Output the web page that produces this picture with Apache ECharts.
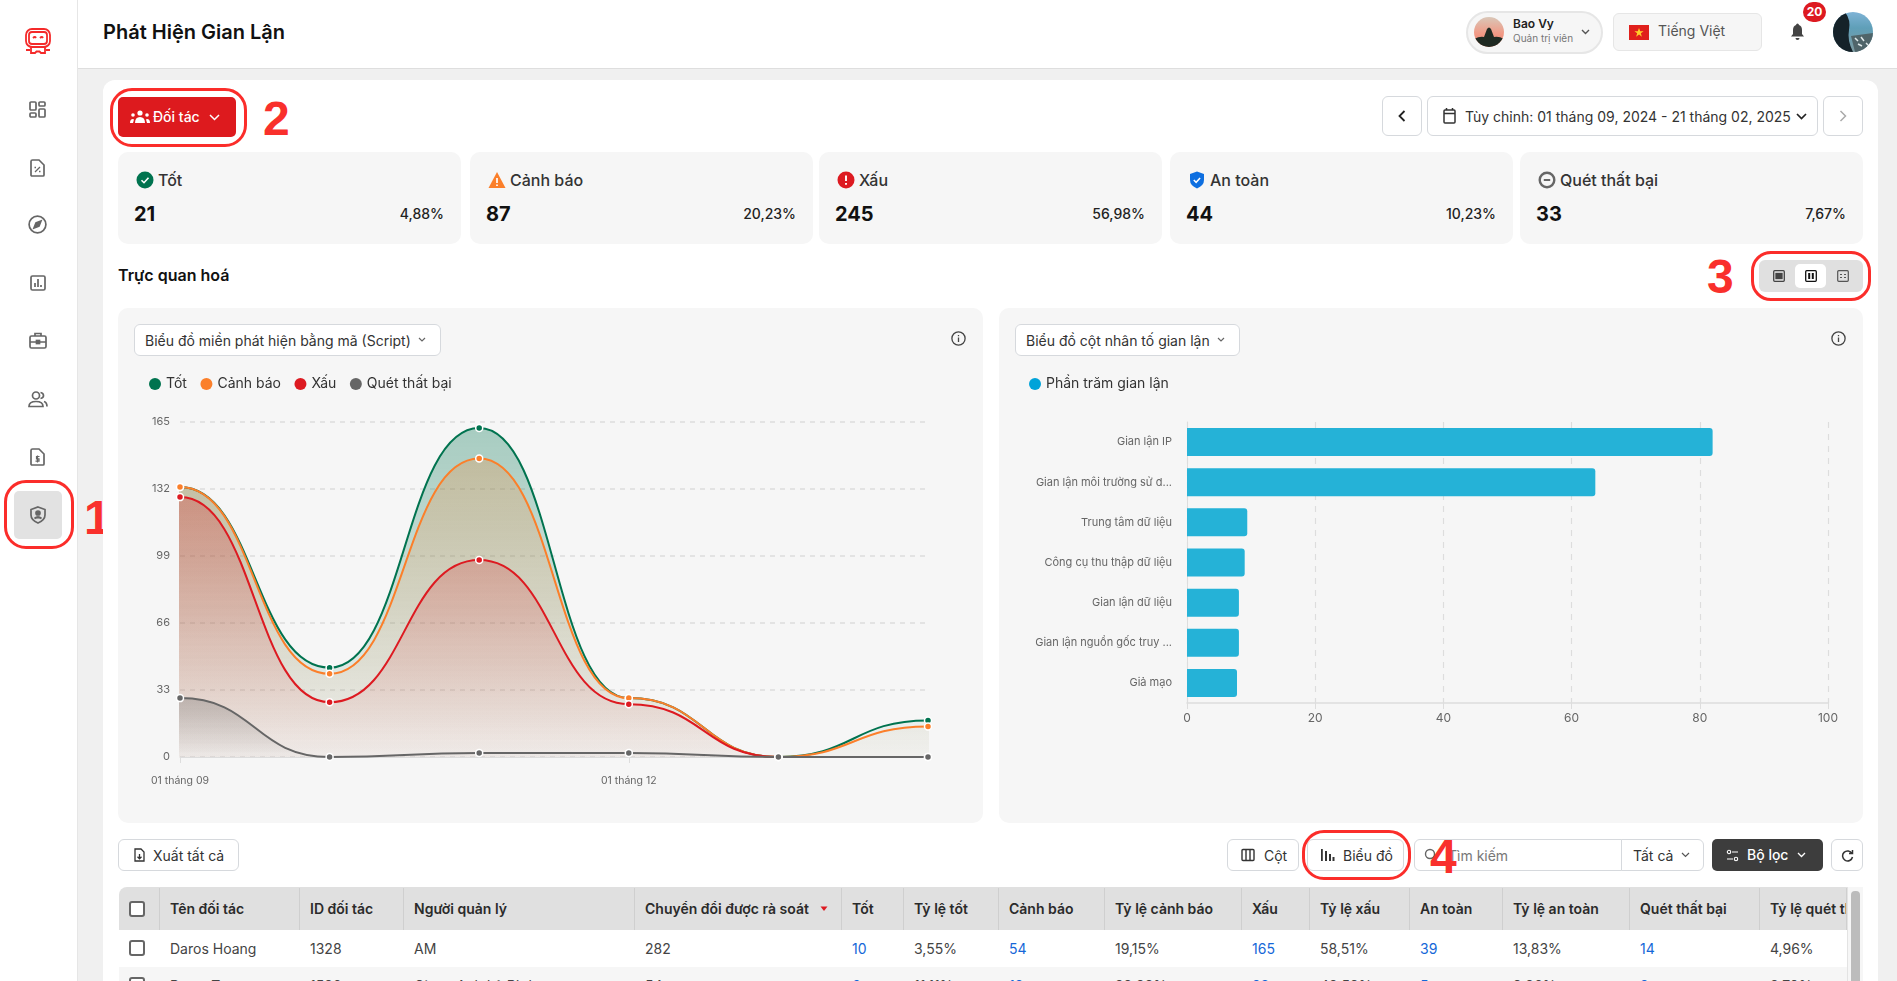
<!DOCTYPE html>
<html>
<head>
<meta charset="utf-8">
<title>Phát Hiện Gian Lận</title>
<script src="https://cdn.jsdelivr.net/npm/echarts@6/dist/echarts.min.js"></script>
<style>
html, body { margin: 0; padding: 0; width: 1897px; height: 981px; overflow: hidden; background: #f0f0f0; font-family: Inter, "Noto Sans", sans-serif; color: #222; }
.a { position: absolute; box-sizing: border-box; white-space: nowrap; }
.btn { background: #fff; border: 1px solid #d6d9dd; border-radius: 6px; display: flex; align-items: center; font-size: 14px; color: #333; }
.ring { border: 3px solid #fb2d2a; border-radius: 22px; }
.num { font-family: "Liberation Sans", Arial, sans-serif; font-weight: 700; font-size: 48px; color: #f9302c; line-height: 48px; }
.card { background: #f6f6f6; border-radius: 10px; top: 152px; height: 92px; width: 343px; }
.panel { background: #f6f6f6; border-radius: 10px; top: 308px; height: 515px; }
svg { display: block; }
.th { position: absolute; top: 1px; height: 42px; line-height: 42px; font-size: 14px; font-weight: 600; color: #2b2b2b; padding-left: 10px; border-right: 1px solid #cfcfcf; box-sizing: border-box; overflow: hidden; white-space: nowrap; }
.td { position: absolute; height: 37px; line-height: 37px; font-size: 14px; color: #444; padding-left: 10px; box-sizing: border-box; white-space: nowrap; overflow: hidden; }
.td.link { color: #1567d8; }
.chk { position: absolute; left: 10px; width: 16px; height: 16px; border: 2px solid #666; border-radius: 3px; background: #fff; box-sizing: border-box; }
</style>
</head>
<body>
<!-- sidebar -->
<div class="a" style="left:0;top:0;width:78px;height:981px;background:#fff;border-right:1px solid #e6e6e6"></div>
<div class="a" style="left:14px;top:491px;width:48px;height:48px;background:#e2e2e2;border-radius:5px"></div>
<div class="a ring" style="left:4px;top:480px;width:70px;height:69px"></div>
<div class="a num" style="left:84px;top:494px">1</div>
<svg class="a" style="left:24px;top:28px" width="28" height="28" viewBox="0 0 28 28" fill="none" stroke="#f42a2a" stroke-width="1.8"><rect x="2" y="1" width="24" height="18" rx="6"/><rect x="5" y="4" width="18" height="12" rx="3"/><path d="M9 10q2-2 3 0M16 10q2-2 3 0"/><path d="M7 19v6h4l1.5-1.5h3L17 25h4v-6M2 22h4M22 22h4"/></svg>
<svg class="a" style="left:29px;top:101px" width="17" height="17" viewBox="0 0 17 17" fill="none" stroke="#666" stroke-width="1.7"><rect x="1" y="1" width="6" height="8" rx="1"/><rect x="10" y="1" width="6" height="4" rx="1"/><rect x="10" y="8" width="6" height="8" rx="1"/><rect x="1" y="12" width="6" height="4" rx="1"/></svg>
<svg class="a" style="left:30px;top:159px" width="15" height="18" viewBox="0 0 15 18" fill="none" stroke="#666" stroke-width="1.7"><path d="M1 2.5Q1 1 2.5 1H9l5 5v10q0 1-1 1H2q-1 0-1-1z"/><path d="M5 13l5-5M4.500 8.500h1.500M9 12.500h1.500" stroke-width="1.300"/></svg>
<svg class="a" style="left:28px;top:215px" width="19" height="19" viewBox="0 0 19 19" fill="none" stroke="#666" stroke-width="1.7"><circle cx="9.5" cy="9.5" r="8.4"/><path d="M13 6l-2 5-5 2 2-5z" fill="#666"/></svg>
<svg class="a" style="left:30px;top:275px" width="16" height="16" viewBox="0 0 16 16" fill="none" stroke="#666" stroke-width="1.7"><rect x="1" y="1" width="14" height="14" rx="1.5"/><path d="M5 12V8M8 12V4M11 12v-2"/></svg>
<svg class="a" style="left:29px;top:332px" width="18" height="17" viewBox="0 0 18 17" fill="none" stroke="#666" stroke-width="1.7"><rect x="1" y="4" width="16" height="12" rx="1.5"/><path d="M6 4V1.5h6V4M1 10h16"/><rect x="7.5" y="8.5" width="3" height="3" fill="#666"/></svg>
<svg class="a" style="left:28px;top:391px" width="20" height="17" viewBox="0 0 20 17" fill="none" stroke="#666" stroke-width="1.7"><circle cx="8" cy="4.5" r="3.5"/><path d="M1 15.5q0-5 7-5t7 5z"/><path d="M12.5 1.5q3 .5 3 3t-3 3M16 10.5q3 1 3 5"/></svg>
<svg class="a" style="left:30px;top:448px" width="15" height="18" viewBox="0 0 15 18" fill="none" stroke="#666" stroke-width="1.7"><path d="M1 2.5Q1 1 2.5 1H9l5 5v10q0 1-1 1H2q-1 0-1-1z"/><path d="M9.5 8.5H6.5v2.3h2.5v2.3H5.5M7.5 7.5v7" stroke-width="1.200"/></svg>
<svg class="a" style="left:30px;top:506px" width="16" height="18" viewBox="0 0 16 18" fill="none" stroke="#666" stroke-width="1.7"><path d="M8 1l7 2.5V9q0 5-7 8-7-3-7-8V3.500z"/><circle cx="8" cy="7" r="2" fill="#666"/><path d="M4.500 12.500q3.500-3 7 0" fill="#666"/></svg>

<!-- header -->
<div class="a" style="left:78px;top:0;width:1819px;height:69px;background:#fff;border-bottom:1px solid #dedede"></div>
<div class="a" style="left:103px;top:18px;font-size:20px;font-weight:600;line-height:28px;color:#111">Phát Hiện Gian Lận</div>
<div class="a" style="left:1466px;top:11px;width:137px;height:43px;border:2px solid #e6e6e6;border-radius:22px;background:#f6f6f6"></div>
<svg class="a" style="left:1474px;top:17px" width="30" height="30" viewBox="0 0 30 30"><defs><linearGradient id="sky" x1="0" y1="0" x2="0" y2="1"><stop offset="0" stop-color="#d9c7b8"/><stop offset=".55" stop-color="#f19a86"/><stop offset="1" stop-color="#e8806c"/></linearGradient><clipPath id="pc"><circle cx="15" cy="15" r="15"/></clipPath></defs><g clip-path="url(#pc)"><rect width="30" height="30" fill="url(#sky)"/><path d="M0 22q6-3 10-2l3-8q2-3 4 0l3 8q5-1 10 2v8H0z" fill="#1f2a22"/></g></svg>
<div class="a" style="left:1513px;top:16px;font-size:12px;font-weight:600;color:#222;line-height:15px">Bao Vy</div>
<div class="a" style="left:1513px;top:32px;font-size:10px;color:#777;line-height:13px">Quản trị viên</div>
<svg class="a" style="left:1581px;top:29px" width="9" height="6" viewBox="0 0 9 6" fill="none" stroke="#555" stroke-width="1.4"><path d="M1 1l3.500 3.500L8 1"/></svg>
<div class="a" style="left:1613px;top:13px;width:149px;height:38px;border:1px solid #e6e6e6;border-radius:6px;background:#f6f6f6"></div>
<svg class="a" style="left:1629px;top:25px" width="20" height="15" viewBox="0 0 20 15"><rect width="20" height="15" fill="#e0201c"/><path d="M10 3l1.200 3.300h3.400l-2.800 2 1.100 3.400L10 9.600l-2.900 2.100 1.100-3.400-2.800-2h3.400z" fill="#ffcf2a"/></svg>
<div class="a" style="left:1658px;top:22px;font-size:14px;color:#555;line-height:18px">Tiếng Việt</div>
<svg class="a" style="left:1790px;top:23px" width="15" height="18" viewBox="0 0 15 18" fill="#444"><path d="M7.500 0.500q1.300 0 1.500 1.500 3 1 3 5v4l2 2.500H1L3 11V7q0-4 3-5 .2-1.500 1.500-1.500zM5.500 15h4q0 2-2 2t-2-2z"/></svg>
<div class="a" style="left:1803px;top:2px;width:23px;height:20px;border-radius:10px;background:#dd1a21;color:#fff;font-size:12px;font-weight:700;text-align:center;line-height:20px">20</div>
<svg class="a" style="left:1833px;top:12px" width="40" height="40" viewBox="0 0 40 40"><defs><linearGradient id="sea" x1="0" y1="0" x2="0" y2="1"><stop offset="0" stop-color="#7fb3d6"/><stop offset=".4" stop-color="#5f9fb8"/><stop offset="1" stop-color="#7e9aa0"/></linearGradient><clipPath id="pc2"><circle cx="20" cy="20" r="20"/></clipPath></defs><g clip-path="url(#pc2)"><rect width="40" height="40" fill="url(#sea)"/><path d="M0 0h12q6 8 4 18t4 22H0z" fill="#152229"/><path d="M18 24l22-3v19H22z" fill="#50656a"/><path d="M22 26l3 3M28 25l3 4M25 32l4 2M33 31l3 3" stroke="#dfe9ea" stroke-width="1.500"/></g></svg>

<!-- main panel -->
<div class="a" style="left:103px;top:80px;width:1775px;height:901px;background:#fff;border-radius:12px 12px 0 0"></div>
<div class="a" style="left:118px;top:97px;width:118px;height:40px;background:#dd1a1e;border-radius:5px;color:#fff;font-size:14px;font-weight:500;line-height:40px;padding-left:35px">Đối tác</div>
<svg class="a" style="left:130px;top:110px" width="20" height="14" viewBox="0 0 20 14" fill="#fff"><circle cx="10" cy="3" r="2.600"/><circle cx="3" cy="5" r="1.800"/><circle cx="17" cy="5" r="1.800"/><path d="M5 13q0-6 5-6t5 6zM0 13q0-4 3-4l1 .5L3 13zM20 13q0-4-3-4l-1 .5 1 3.500z"/></svg>
<svg class="a" style="left:209px;top:114px" width="11" height="7" viewBox="0 0 11 7" fill="none" stroke="#fff" stroke-width="1.500"><path d="M1 1l4.500 4.500L10 1"/></svg>
<div class="a ring" style="left:110px;top:88px;width:137px;height:59px"></div>
<div class="a num" style="left:263px;top:95px">2</div>

<div class="a btn" style="left:1382px;top:96px;width:40px;height:40px;justify-content:center"><svg width="8" height="12" viewBox="0 0 8 12" fill="none" stroke="#222" stroke-width="1.800"><path d="M6.500 1L1.500 6l5 5"/></svg></div>
<div class="a btn" style="left:1427px;top:96px;width:391px;height:40px;padding-left:37px;color:#333">Tùy chỉnh: 01 tháng 09, 2024 - 21 tháng 02, 2025</div>
<svg class="a" style="left:1443px;top:107px" width="13" height="17" viewBox="0 0 13 17" fill="none" stroke="#333" stroke-width="1.500"><rect x="1" y="3" width="11" height="13" rx="1"/><path d="M1 6.500h11M3.500 1v2M9.500 1v2"/></svg>
<svg class="a" style="left:1796px;top:113px" width="11" height="7" viewBox="0 0 11 7" fill="none" stroke="#222" stroke-width="1.700"><path d="M1 1l4.500 4.500L10 1"/></svg>
<div class="a btn" style="left:1823px;top:96px;width:40px;height:40px;justify-content:center"><svg width="8" height="12" viewBox="0 0 8 12" fill="none" stroke="#aaa" stroke-width="1.500"><path d="M1.500 1l5 5-5 5"/></svg></div>

<div id="cards"></div>

<div class="a" style="left:118px;top:265px;font-size:16px;font-weight:600;line-height:20px;color:#111">Trực quan hoá</div>
<div class="a num" style="left:1707px;top:253px">3</div>
<div class="a" style="left:1759px;top:260px;width:104px;height:32px;background:#e0e0e0;border-radius:6px"></div>
<div class="a" style="left:1795px;top:264px;width:31px;height:24px;background:#fff;border-radius:5px"></div>
<svg class="a" style="left:1773px;top:270px" width="12" height="12" viewBox="0 0 12 12" fill="none" stroke="#444" stroke-width="1.300"><rect x=".7" y=".7" width="10.600" height="10.600" rx="1"/><rect x="3" y="3.500" width="6" height="5" fill="#444"/></svg>
<svg class="a" style="left:1805px;top:270px" width="12" height="12" viewBox="0 0 12 12" stroke="#111" stroke-width="1.300"><rect x=".7" y=".7" width="10.600" height="10.600" rx="1" fill="none"/><path d="M4.200 3v6M7.800 3v6" stroke-width="2"/></svg>
<svg class="a" style="left:1837px;top:270px" width="12" height="12" viewBox="0 0 12 12" fill="none" stroke="#555" stroke-width="1.200"><rect x=".7" y=".7" width="10.600" height="10.600" rx="1"/><path d="M3 4.500h2M7 4.500h2M3 7.500h2M7 7.500h2"/></svg>
<div class="a ring" style="left:1751px;top:251px;width:120px;height:50px;border-radius:20px"></div>

<!-- chart panels -->
<div class="a panel" style="left:118px;width:865px"></div>
<div class="a panel" style="left:999px;width:864px"></div>
<div id="areaChart" class="a" style="left:118px;top:308px;width:865px;height:515px"></div>
<div id="barChart" class="a" style="left:999px;top:308px;width:864px;height:515px"></div>
<div class="a btn" style="left:134px;top:324px;width:307px;height:32px;padding-left:10px;color:#333">Biểu đồ miền phát hiện bằng mã (Script)</div>
<svg class="a" style="left:418px;top:337px" width="8" height="6" viewBox="0 0 8 6" fill="none" stroke="#666" stroke-width="1.200"><path d="M1 1l3 3 3-3"/></svg>
<div class="a btn" style="left:1015px;top:324px;width:225px;height:32px;padding-left:10px;color:#333">Biểu đồ cột nhân tố gian lận</div>
<svg class="a" style="left:1217px;top:337px" width="8" height="6" viewBox="0 0 8 6" fill="none" stroke="#666" stroke-width="1.200"><path d="M1 1l3 3 3-3"/></svg>
<svg class="a" style="left:951px;top:331px" width="15" height="15" viewBox="0 0 15 15" fill="none" stroke="#444" stroke-width="1.300"><circle cx="7.500" cy="7.500" r="6.600"/><path d="M7.500 6.500V11M7.500 4v1.200"/></svg>
<svg class="a" style="left:1831px;top:331px" width="15" height="15" viewBox="0 0 15 15" fill="none" stroke="#444" stroke-width="1.300"><circle cx="7.500" cy="7.500" r="6.600"/><path d="M7.500 6.500V11M7.500 4v1.200"/></svg>

<!-- toolbar -->
<div class="a btn" style="left:118px;top:839px;width:121px;height:32px;padding-left:34px;color:#333">Xuất tất cả</div>
<svg class="a" style="left:134px;top:848px" width="11" height="14" viewBox="0 0 11 14" fill="none" stroke="#333" stroke-width="1.300"><path d="M1 1h6l3 3v9H1z"/><path d="M5.500 6v4.500M3.500 8.800l2 2 2-2"/></svg>
<div class="a btn" style="left:1227px;top:839px;width:72px;height:32px;padding-left:36px;color:#333">Cột</div>
<svg class="a" style="left:1241px;top:848px" width="14" height="14" viewBox="0 0 14 14" fill="none" stroke="#333" stroke-width="1.400"><rect x="1" y="1.500" width="12" height="11" rx="1"/><path d="M5 1.500v11M9 1.500v11"/></svg>
<div class="a btn" style="left:1307px;top:839px;width:97px;height:32px;padding-left:35px;color:#333">Biểu đồ</div>
<svg class="a" style="left:1320px;top:848px" width="15" height="14" viewBox="0 0 15 14" fill="#333"><rect x="1" y="1" width="1.800" height="12"/><rect x="5" y="3" width="2" height="10"/><rect x="9" y="6" width="2" height="7"/><rect x="12.500" y="9" width="2" height="4"/></svg>
<div class="a ring" style="left:1302px;top:830px;width:109px;height:50px"></div>
<div class="a btn" style="left:1414px;top:839px;width:208px;height:32px;border-radius:6px 0 0 6px;padding-left:33px;color:#777">Tìm kiếm</div>
<svg class="a" style="left:1424px;top:848px" width="14" height="14" viewBox="0 0 14 14" fill="none" stroke="#666" stroke-width="1.400"><circle cx="6" cy="6" r="4.500"/><path d="M9.500 9.500L13 13"/></svg>
<div class="a btn" style="left:1621px;top:839px;width:83px;height:32px;border-radius:0 6px 6px 0;padding-left:11px;color:#333">Tất cả</div>
<svg class="a" style="left:1681px;top:852px" width="9" height="6" viewBox="0 0 9 6" fill="none" stroke="#555" stroke-width="1.200"><path d="M1 1l3.500 3.500L8 1"/></svg>
<div class="a num" style="left:1430px;top:833px">4</div>
<div class="a" style="left:1712px;top:839px;width:111px;height:32px;background:#3d3d3d;border-radius:5px;color:#fff;font-size:14px;font-weight:500;line-height:32px;padding-left:35px">Bộ lọc</div>
<svg class="a" style="left:1726px;top:849px" width="13" height="13" viewBox="0 0 13 13" fill="none" stroke="#fff" stroke-width="1.100"><circle cx="3" cy="3" r="1.700"/><path d="M6 3h6M1 10h6"/><circle cx="10" cy="10" r="1.700"/></svg>
<svg class="a" style="left:1797px;top:852px" width="9" height="6" viewBox="0 0 9 6" fill="none" stroke="#fff" stroke-width="1.300"><path d="M1 1l3.500 3.500L8 1"/></svg>
<div class="a btn" style="left:1831px;top:839px;width:32px;height:32px;justify-content:center"><svg width="13" height="13" viewBox="0 0 13 13" fill="none" stroke="#333" stroke-width="1.500"><path d="M11 4.500A5 5 0 1 0 11.500 8M11.500 1v3.500H8"/></svg></div>

<!-- table -->
<div id="table" class="a" style="left:119px;top:887px;width:1728px;height:94px;overflow:hidden;background:#fff;border-radius:8px 0 0 0"></div>
<div class="a" style="left:1847px;top:887px;width:16px;height:94px;background:#f6f6f6;border-left:1px solid #e3e3e3"></div>
<div class="a" style="left:1851px;top:891px;width:9px;height:90px;background:#bcbcbc;border-radius:4px 4px 0 0"></div>

<script>
// area chart data
var monthLabels = ['01 tháng 09', '01 tháng 10', '01 tháng 11', '01 tháng 12', '01 tháng 01', '01 tháng 02'];
var totValues = [133, 44, 162, 29, 0, 18];
var canhBaoValues = [133, 41, 147, 29, 0, 15];
var xauValues = [128, 27, 97, 26, 0, 0];
var quetValues = [29, 0, 2, 2, 0, 0];
var areaTicks = [0, 33, 66, 99, 132, 165];

// bar chart data
var factorNames = ['Gian lận IP', 'Gian lận môi trường sử d...', 'Trung tâm dữ liệu', 'Công cụ thu thập dữ liệu', 'Gian lận dữ liệu', 'Gian lận nguồn gốc truy ...', 'Giả mạo'];
var factorValues = [82, 63.7, 9.4, 9, 8.1, 8.1, 7.8];

// summary cards
var cardNames = ['Tốt', 'Cảnh báo', 'Xấu', 'An toàn', 'Quét thất bại'];
var cardCounts = ['21', '87', '245', '44', '33'];
var cardRates = ['4,88%', '20,23%', '56,98%', '10,23%', '7,67%'];

// table
var tableHeaders = ['', 'Tên đối tác', 'ID đối tác', 'Người quản lý', 'Chuyển đổi được rà soát', 'Tốt', 'Tỷ lệ tốt', 'Cảnh báo', 'Tỷ lệ cảnh báo', 'Xấu', 'Tỷ lệ xấu', 'An toàn', 'Tỷ lệ an toàn', 'Quét thất bại', 'Tỷ lệ quét thất bại'];
var row1 = ['', 'Daros Hoang', '1328', 'AM', '282', '10', '3,55%', '54', '19,15%', '165', '58,51%', '39', '13,83%', '14', '4,96%'];
var row2 = ['', 'Bemy Tran', '1526', 'Giang Anh Lê Đình', '54', '6', '11,11%', '12', '22,22%', '23', '42,59%', '5', '9,26%', '2', '3,70%'];
var linkCols = [5, 7, 9, 11, 13];
var colEdges = [0, 41, 181, 285, 516, 723, 785, 880, 986, 1123, 1191, 1291, 1384, 1511, 1641, 1728];

var cardIcons = [
    '<circle cx="9" cy="9" r="8.500" fill="#00734f"/><path d="M5.500 9.200l2.500 2.500 4.500-5" fill="none" stroke="#fff" stroke-width="1.600"/>',
    '<path d="M9 1l8.500 16H.5z" fill="#fb7f2a"/><path d="M9 7v5M9 13.500v1.500" stroke="#fff" stroke-width="1.700"/>',
    '<circle cx="9" cy="9" r="8.500" fill="#dd1a21"/><path d="M9 4.500v5.500M9 12v1.800" stroke="#fff" stroke-width="1.900"/>',
    '<path d="M9 .5l7 2.500v6q0 5.500-7 8.500-7-3-7-8.500V3z" fill="#0e6fe0"/><path d="M5.800 9l2.300 2.300 4-4.300" fill="none" stroke="#fff" stroke-width="1.500"/>',
    '<circle cx="9" cy="9" r="7.300" fill="none" stroke="#666" stroke-width="2.400"/><path d="M5.800 9h6.400" stroke="#666" stroke-width="2"/>'
];
var cardsHtml = '';
var cardLefts = [118, 470, 819, 1170, 1520];
var i, j;
for (i = 0; i < cardNames.length; i++) {
    cardsHtml += '<div class="a card" style="left:' + cardLefts[i] + 'px"></div>' +
        '<svg class="a" style="left:' + (cardLefts[i] + 18) + 'px;top:171px" width="18" height="18" viewBox="0 0 18 18">' + cardIcons[i] + '</svg>' +
        '<div class="a" style="left:' + (cardLefts[i] + 40) + 'px;top:170px;font-size:16px;line-height:20px;color:#333;font-weight:500">' + cardNames[i] + '</div>' +
        '<div class="a" style="left:' + (cardLefts[i] + 16) + 'px;top:201px;font-size:20px;line-height:26px;font-weight:700;color:#111">' + cardCounts[i] + '</div>' +
        '<div class="a" style="right:' + (1897 - cardLefts[i] - 326) + 'px;top:205px;font-size:14px;line-height:18px;font-weight:500;color:#222">' + cardRates[i] + '</div>';
}
document.getElementById('cards').innerHTML = cardsHtml;

var tableHtml = '<div style="position:absolute;left:0;top:42px;width:1728px;height:38px;background:#fff"></div>' +
    '<div style="position:absolute;left:0;top:80px;width:1728px;height:37px;background:#f6f6f6"></div>';
for (j = 0; j < tableHeaders.length; j++) {
    var w = colEdges[j + 1] - colEdges[j];
    var label = tableHeaders[j];
    tableHtml += '<div class="th" style="left:' + colEdges[j] + 'px;width:' + w + 'px;background:#e0e0e0">' + label + '</div>';
    [row1, row2].forEach(function (row, r) {
        var cls = linkCols.indexOf(j) >= 0 ? 'td link' : 'td';
        tableHtml += '<div class="' + cls + '" style="left:' + colEdges[j] + 'px;top:' + (43 + r * 37) + 'px;width:' + w + 'px">' + row[j] + '</div>';
    });
}
tableHtml += '<div style="position:absolute;left:0;top:0;width:1728px;height:1px;background:#e0e0e0"></div>';
tableHtml += '<div class="chk" style="top:14px"></div><div class="chk" style="top:53px"></div><div class="chk" style="top:90px"></div>';
tableHtml += '<svg style="position:absolute;left:701px;top:19px" width="8" height="6" viewBox="0 0 8 6"><path d="M0.500 0.500h7L4 5z" fill="#dd1a21"/></svg>';
document.getElementById('table').innerHTML = tableHtml;

function fade(color, top, bottom) {
    return new echarts.graphic.LinearGradient(0, 0, 0, 1, [
        { offset: 0, color: echarts.color.modifyAlpha(color, top) },
        { offset: 1, color: echarts.color.modifyAlpha(color, bottom) }
    ]);
}

// repeat both end values one step outside the axis range, the clip hides them:
// that way the smooth curve also leaves the first and last point flat
function padEnds(list, before, after) {
    return [before].concat(list, [after]);
}

function areaSeries(name, values, color, top) {
    return {
        name: name,
        type: 'line',
        data: padEnds(values, values[0], values[values.length - 1]),
        smooth: true,
        smoothMonotone: 'x',
        symbol: 'circle',
        symbolSize: 7,
        showAllSymbol: true,
        lineStyle: { color: color, width: 2 },
        itemStyle: { color: color, borderColor: '#fff', borderWidth: 1.5 },
        areaStyle: { color: fade(color, top, 0.03) }
    };
}

var legendText = { fontFamily: 'Inter', fontSize: 14, color: '#333' };
var axisFont = { fontFamily: 'Inter', color: '#666' };

var areaChart = echarts.init(document.getElementById('areaChart'));
areaChart.setOption({
    animation: false,
    textStyle: { fontFamily: 'Inter' },
    legend: {
        left: 26, top: 64, icon: 'circle', itemWidth: 12, itemHeight: 12, itemGap: 13.5,
        textStyle: legendText,
        itemStyle: { borderWidth: 0 },
        data: ['Tốt', 'Cảnh báo', 'Xấu', 'Quét thất bại']
    },
    grid: { left: 62, right: 55, top: 114, bottom: 66 },
    xAxis: {
        type: 'category',
        boundaryGap: false,
        min: 1,
        max: monthLabels.length,
        data: padEnds(monthLabels, '', ''),
        axisLine: { lineStyle: { color: '#dddddd', width: 1 } },
        axisTick: { interval: 2, length: 6, lineStyle: { color: '#dddddd' } },
        axisLabel: Object.assign({ interval: 2, fontSize: 10.5, margin: 18 }, axisFont)
    },
    yAxis: {
        type: 'value',
        min: areaTicks[0],
        max: areaTicks[areaTicks.length - 1],
        interval: 33,
        axisLine: { show: false },
        axisTick: { show: false },
        axisLabel: Object.assign({ fontSize: 11, margin: 10, padding: [0, 0, 4, 0] }, axisFont),
        splitLine: { lineStyle: { color: '#dddddd', type: [5, 5], width: 1.5 } }
    },
    series: [
        areaSeries('Tốt', totValues, '#00734f', 0.46),
        areaSeries('Cảnh báo', canhBaoValues, '#fb7f2a', 0.35),
        areaSeries('Xấu', xauValues, '#dd1a21', 0.4),
        areaSeries('Quét thất bại', quetValues, '#666666', 0.45)
    ]
});

var barChart = echarts.init(document.getElementById('barChart'));
barChart.setOption({
    animation: false,
    textStyle: { fontFamily: 'Inter' },
    legend: {
        left: 25, top: 64, icon: 'circle', itemWidth: 12, itemHeight: 12,
        textStyle: legendText,
        itemStyle: { color: '#00a3d9' },
        data: ['Phần trăm gian lận']
    },
    grid: { left: 188, right: 35, top: 114, bottom: 120 },
    xAxis: {
        type: 'value',
        min: 0,
        max: 100,
        interval: 20,
        axisLine: { show: true, lineStyle: { color: '#dddddd', width: 1.5 } },
        axisTick: { show: true, length: 6, lineStyle: { color: '#dddddd' } },
        axisLabel: Object.assign({ fontSize: 12, margin: 9 }, axisFont),
        splitLine: { lineStyle: { color: '#dddddd', type: [6, 6], width: 1.2 } }
    },
    yAxis: {
        type: 'category',
        inverse: true,
        data: factorNames,
        axisLine: { lineStyle: { color: '#dddddd' } },
        axisTick: { show: false },
        axisLabel: Object.assign({ fontSize: 11, margin: 15 }, axisFont)
    },
    series: [{
        name: 'Phần trăm gian lận',
        type: 'bar',
        data: factorValues,
        barWidth: 28,
        itemStyle: { color: '#25b2d7', borderRadius: [0, 3, 3, 0] }
    }]
});
</script>
</body>
</html>
